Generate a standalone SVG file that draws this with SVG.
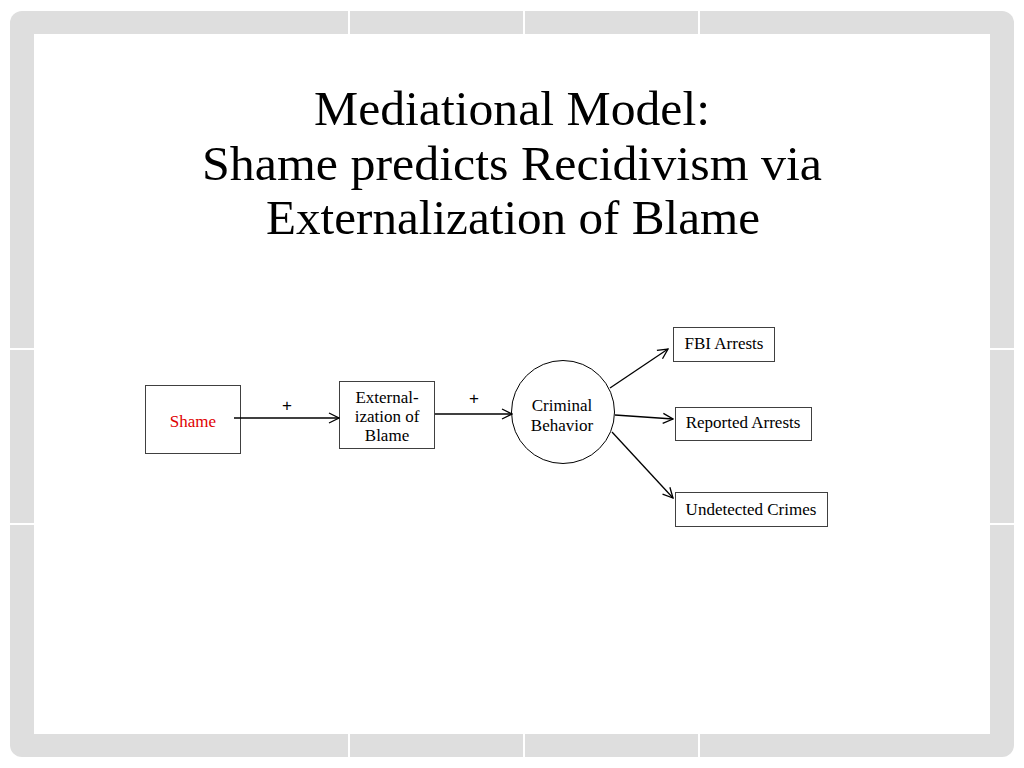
<svg xmlns="http://www.w3.org/2000/svg" width="1024" height="768" viewBox="0 0 1024 768">
<style>
.box{fill:#fff;stroke:#404040;stroke-width:1}
.lbl{font-family:"Liberation Serif",serif;font-size:17px;fill:#000;text-anchor:middle}
.title{font-family:"Liberation Serif",serif;font-size:49px;fill:#000;text-anchor:middle}
.plus{font-family:"Liberation Sans",sans-serif;font-size:17px;fill:#000;text-anchor:middle}
.conn{stroke:#000;stroke-width:1.3;fill:none;marker-end:url(#arr)}
.sep{stroke:#fff;stroke-width:2}
</style>
<defs>
<marker id="arr" viewBox="0 0 12 12" refX="11" refY="6" markerWidth="12" markerHeight="12" markerUnits="userSpaceOnUse" orient="auto">
<path d="M1,1 L11,6 L1,11" fill="none" stroke="#000" stroke-width="1.3"/>
</marker>
</defs>
<rect width="1024" height="768" fill="#fff"/>
<g id="frame">
<rect x="10" y="11" width="1004" height="746" rx="12" fill="#dedede"/>
<rect x="34" y="34" width="956" height="700" fill="#fff"/>
<line class="sep" x1="349" y1="11" x2="349" y2="34"/>
<line class="sep" x1="524" y1="11" x2="524" y2="34"/>
<line class="sep" x1="699" y1="11" x2="699" y2="34"/>
<line class="sep" x1="349" y1="734" x2="349" y2="757"/>
<line class="sep" x1="524" y1="734" x2="524" y2="757"/>
<line class="sep" x1="699" y1="734" x2="699" y2="757"/>
<line class="sep" x1="10" y1="349" x2="34" y2="349"/>
<line class="sep" x1="10" y1="524" x2="34" y2="524"/>
<line class="sep" x1="990" y1="349" x2="1014" y2="349"/>
<line class="sep" x1="990" y1="524" x2="1014" y2="524"/>
</g>
<g id="title">
<text class="title" x="512" y="125" textLength="396" lengthAdjust="spacingAndGlyphs">Mediational Model:</text>
<text class="title" x="512" y="180" textLength="620" lengthAdjust="spacingAndGlyphs">Shame predicts Recidivism via</text>
<text class="title" x="513" y="234" textLength="494" lengthAdjust="spacingAndGlyphs">Externalization of Blame</text>
</g>
<g id="shame">
<rect class="box" x="145.5" y="385.5" width="95" height="68"/>
<text class="lbl" x="193" y="427" style="fill:#e00000">Shame</text>
</g>
<g id="externalization">
<rect class="box" x="339.5" y="381.5" width="95" height="67"/>
<text class="lbl" x="387" y="403">External-</text>
<text class="lbl" x="387" y="422">ization of</text>
<text class="lbl" x="387" y="441">Blame</text>
</g>
<g id="criminal">
<circle cx="563" cy="412" r="51.5" fill="#fff" stroke="#000" stroke-width="1"/>
<text class="lbl" x="562" y="411">Criminal</text>
<text class="lbl" x="562" y="431">Behavior</text>
</g>
<g id="fbi">
<rect class="box" x="673.5" y="327.5" width="101" height="34"/>
<text class="lbl" x="724" y="349">FBI Arrests</text>
</g>
<g id="reported">
<rect class="box" x="675.5" y="407.5" width="136" height="33"/>
<text class="lbl" x="743" y="428">Reported Arrests</text>
</g>
<g id="undetected">
<rect class="box" x="675.5" y="492.5" width="152" height="34"/>
<text class="lbl" x="751" y="515">Undetected Crimes</text>
</g>
<g id="connectors">
<line class="conn" x1="234" y1="418" x2="339" y2="418"/>
<line class="conn" x1="435" y1="414" x2="512" y2="414"/>
<line class="conn" x1="610" y1="388" x2="668" y2="349"/>
<line class="conn" x1="615" y1="415" x2="673" y2="419"/>
<line class="conn" x1="612" y1="432" x2="673" y2="498"/>
<text class="plus" x="287" y="411">+</text>
<text class="plus" x="474" y="404">+</text>
</g>
</svg>
